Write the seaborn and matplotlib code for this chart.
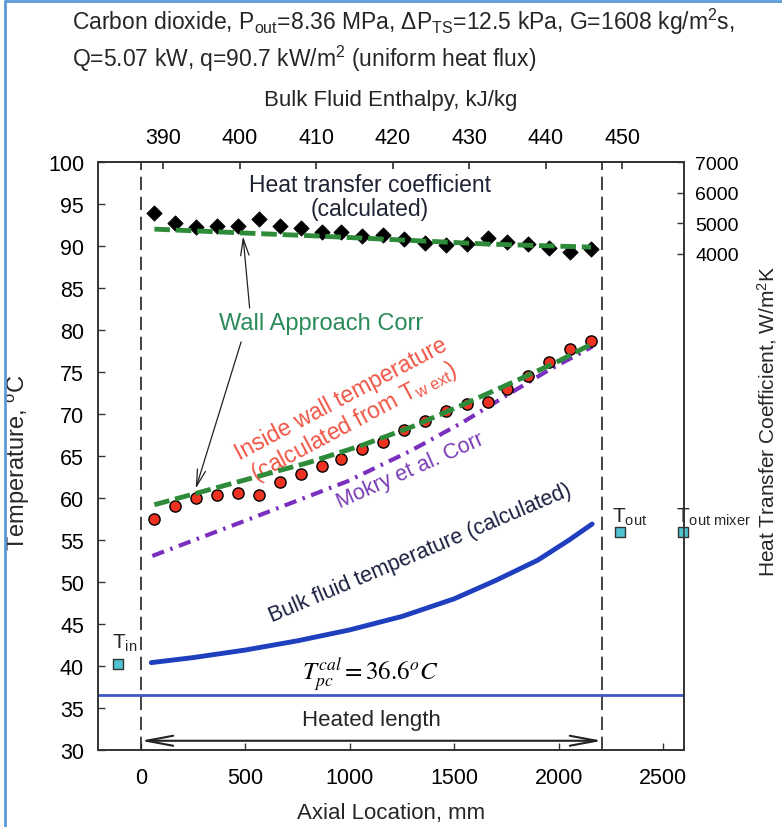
import numpy as np
import pandas as pd
import matplotlib
matplotlib.use("Agg")
import matplotlib.pyplot as plt
import seaborn as sns
from matplotlib.lines import Line2D

# thermocouple locations along the heated length, mm
z_tc = [65, 165, 265, 365, 465, 565, 665, 765, 865, 960, 1060, 1160,
        1260, 1360, 1460, 1560, 1660, 1755, 1855, 1955, 2055, 2155]
# heat transfer coefficient (calculated), W/m2K
htc_calc = [5330, 5000, 4870, 4900, 4900, 5130, 4900, 4840, 4710, 4710, 4570,
            4610, 4480, 4340, 4280, 4310, 4510, 4380, 4310, 4180, 4050, 4150]
# inside wall temperature (calculated from T_w ext), C
t_wall = [57.5, 59.0, 60.0, 60.3, 60.6, 60.4, 61.9, 62.8, 63.8, 64.6, 65.8,
          66.7, 68.1, 69.2, 70.4, 71.2, 71.4, 73.0, 74.5, 76.2, 77.7, 78.7]

# wall approach correlation
z_htc_corr = [65, 470, 860, 1260, 1660, 2155]
htc_corr = [4800, 4680, 4570, 4440, 4310, 4210]
z_tw_corr = [65, 300, 550, 800, 1050, 1300, 1550, 1800, 2000, 2155]
tw_corr = [59.2, 60.8, 62.5, 64.2, 66.2, 68.5, 71.2, 74.0, 76.3, 78.3]

# Mokry et al. correlation
z_mokry = [55, 500, 990, 1290, 1540, 1750, 1950, 2160]
t_mokry = [53.1, 57.3, 62.0, 65.6, 69.0, 72.2, 75.2, 78.0]

# bulk fluid temperature (calculated)
z_bulk = [50, 250, 500, 750, 1000, 1250, 1500, 1700, 1900, 2050, 2160]
t_bulk = [40.4, 41.0, 41.9, 43.0, 44.3, 45.9, 48.0, 50.2, 52.6, 55.0, 56.9]

# inlet / outlet temperatures
z_in, t_in = -110, 40.2
z_out, t_out = 2294, 55.9
z_mix, t_mix = 2596, 55.9

t_pc = 36.6
heated_length = 2208
# bulk enthalpy at the two ends of the heated length, kJ/kg
h_in, h_out = 387.1, 447.4
h_ticks = [390, 400, 410, 420, 430, 440, 450]

sns.set_theme(style="ticks")
arial = ["Liberation Sans", "DejaVu Sans"]
plt.rcParams["font.family"] = arial
plt.rcParams["mathtext.fontset"] = "custom"
plt.rcParams["mathtext.rm"] = "Liberation Sans"
plt.rcParams["mathtext.it"] = "Liberation Sans:italic"
plt.rcParams["mathtext.bf"] = "Liberation Sans:bold"

fig = plt.figure(figsize=(7.82, 8.28), dpi=100)
ax = fig.add_axes([0.1253, 0.093, 0.7494, 0.7101])
ax2 = ax.twinx()

# temperatures
sns.lineplot(x=z_bulk, y=t_bulk, ax=ax, color="#1f3fbf", lw=3.5)
sns.lineplot(x=z_mokry, y=t_mokry, ax=ax, color="#7b2fbe", lw=3,
             linestyle=(0, (3, 1.6, 0.6, 1.6)))
sns.scatterplot(x=z_tc, y=t_wall, ax=ax, color="#ee3322", edgecolor="black",
                linewidth=1.0, s=65, zorder=5)
sns.lineplot(x=z_tw_corr, y=tw_corr, ax=ax, color="#2e8b3a", lw=3.5,
             linestyle=(0, (3.2, 1.2)), zorder=6)
sns.scatterplot(x=[z_in, z_out, z_mix], y=[t_in, t_out, t_mix], ax=ax,
                marker="s", color="#4fc3d0", edgecolor="#333333",
                linewidth=1.0, s=55, zorder=7, clip_on=False)

# heat transfer coefficient on the right axis
sns.scatterplot(x=z_tc, y=htc_calc, ax=ax2, marker="D", color="black",
                edgecolor="black", s=60, zorder=5)
sns.lineplot(x=z_htc_corr, y=htc_corr, ax=ax2, color="#2e8b3a", lw=3.5,
             linestyle=(0, (3.2, 1.2)), zorder=6)

ax.axhline(t_pc, color="#4059c8", lw=2)
for zz in [0, heated_length]:
    ax.axvline(zz, color="#222222", lw=1.2, dashes=(8, 4))

ax.set_xlim(-205, 2600)
ax.set_ylim(30, 100)
ax.set_xticks([0, 500, 1000, 1500, 2000, 2500])
ax.set_yticks(range(30, 101, 5))
ax2.set_ylim(-12280, 7000)
ax2.set_yticks([4000, 5000, 6000, 7000])

for a in [ax, ax2]:
    a.tick_params(direction="in", length=5, width=1, colors="#333333",
                  labelcolor="black")
    for s in a.spines.values():
        s.set_color("#333333")
        s.set_linewidth(1.2)
ax.tick_params(axis="both", labelsize=15.5)
ax.tick_params(axis="y", pad=10)
ax.tick_params(axis="x", pad=12)
ax2.tick_params(axis="y", labelsize=14, pad=8)

ax.set_xlabel("Axial Location, mm", fontsize=16, labelpad=10)
ax.set_ylabel("Temperature, $^\\mathrm{o}$C", fontsize=17)
ax.yaxis.set_label_coords(-0.112, 0.49)
ax2.set_ylabel("Heat Transfer Coefficient, W/m$^2$K", fontsize=15)
ax2.yaxis.set_label_coords(1.122, 0.561)

# enthalpy axis on top
def z_to_h(z):
    return h_in + np.asarray(z) * (h_out - h_in) / heated_length

def h_to_z(h):
    return (np.asarray(h) - h_in) * heated_length / (h_out - h_in)

top = ax.secondary_xaxis("top", functions=(z_to_h, h_to_z))
top.set_xticks(h_ticks)
top.tick_params(direction="in", length=5, labelsize=15.5, pad=10, colors="#333333",
                labelcolor="black")
top.set_xlabel("Bulk Fluid Enthalpy, kJ/kg", fontsize=16, labelpad=16)

# annotations
ax.text(1097, 95.9, "Heat transfer coefficient\n(calculated)", ha="center",
        va="center", fontsize=16.5, color="#1e2233", linespacing=1.1)
ax.text(862, 80.8, "Wall Approach Corr", ha="center", va="center",
        fontsize=17, color="#2a8a5a")
ax.annotate("", xy=(488, 91.5), xytext=(522, 82.3),
            arrowprops=dict(arrowstyle="->,head_length=1.0,head_width=0.25",
                            color="#222222", lw=0.9))
ax.annotate("", xy=(259, 60.8), xytext=(484, 78.9),
            arrowprops=dict(arrowstyle="->,head_length=1.0,head_width=0.25",
                            color="#222222", lw=0.9))
ax.text(991, 70.4, "Inside wall temperature\n(calculated from T$_\\mathrm{w\\ ext}$)",
        ha="center", va="center", fontsize=16.5, color="#f05545",
        rotation=28, linespacing=1.05)
ax.text(1288, 63.3, "Mokry et al. Corr", ha="center", va="center", fontsize=15.5,
        color="#7a3db5", rotation=24)
ax.text(1336, 53.5, "Bulk fluid temperature (calculated)", ha="center",
        va="center", fontsize=15.5, color="#1a1f40", rotation=23)
ax.text(1097, 39.1, "$T_{pc}^{cal}=36.6^o C$", ha="center", va="center",
        fontsize=18, math_fontfamily="stix", color="black")
ax.text(1102, 33.6, "Heated length", ha="center", va="center", fontsize=16)
ax.annotate("", xy=(0, 31.1), xytext=(heated_length, 31.1),
            arrowprops=dict(arrowstyle="<->,head_length=1.6,head_width=0.3",
                            color="#222222", lw=1.5, shrinkA=0, shrinkB=0))

ax.text(-139, 41.5, "T$_\\mathrm{in}$", ha="left", va="bottom", fontsize=15,
        clip_on=False)
ax.text(2256, 56.6, "T$_\\mathrm{out}$", ha="left", va="bottom", fontsize=15,
        clip_on=False)
ax.text(2560, 56.6, "T$_\\mathrm{out\\ mixer}$", ha="left", va="bottom", fontsize=15,
        clip_on=False)

# titles
fig.text(0.092, 0.973, "Carbon dioxide, P$_\\mathrm{out}$=8.36 MPa, \u0394P$_\\mathrm{TS}$=12.5 kPa, "
         "G=1608 kg/m$^2$s,", ha="left", va="center", fontsize=16.5)
fig.text(0.092, 0.929, "Q=5.07 kW, q=90.7 kW/m$^2$ (uniform heat flux)", ha="left",
         va="center", fontsize=16.5)

# thin border of the original picture
fig.add_artist(Line2D([0.006, 0.006], [0.0, 0.997], color="#5b9bd5", lw=2))
fig.add_artist(Line2D([0.006, 1.0], [0.997, 0.997], color="#5b9bd5", lw=2))

fig.savefig("out.png", dpi=100)
